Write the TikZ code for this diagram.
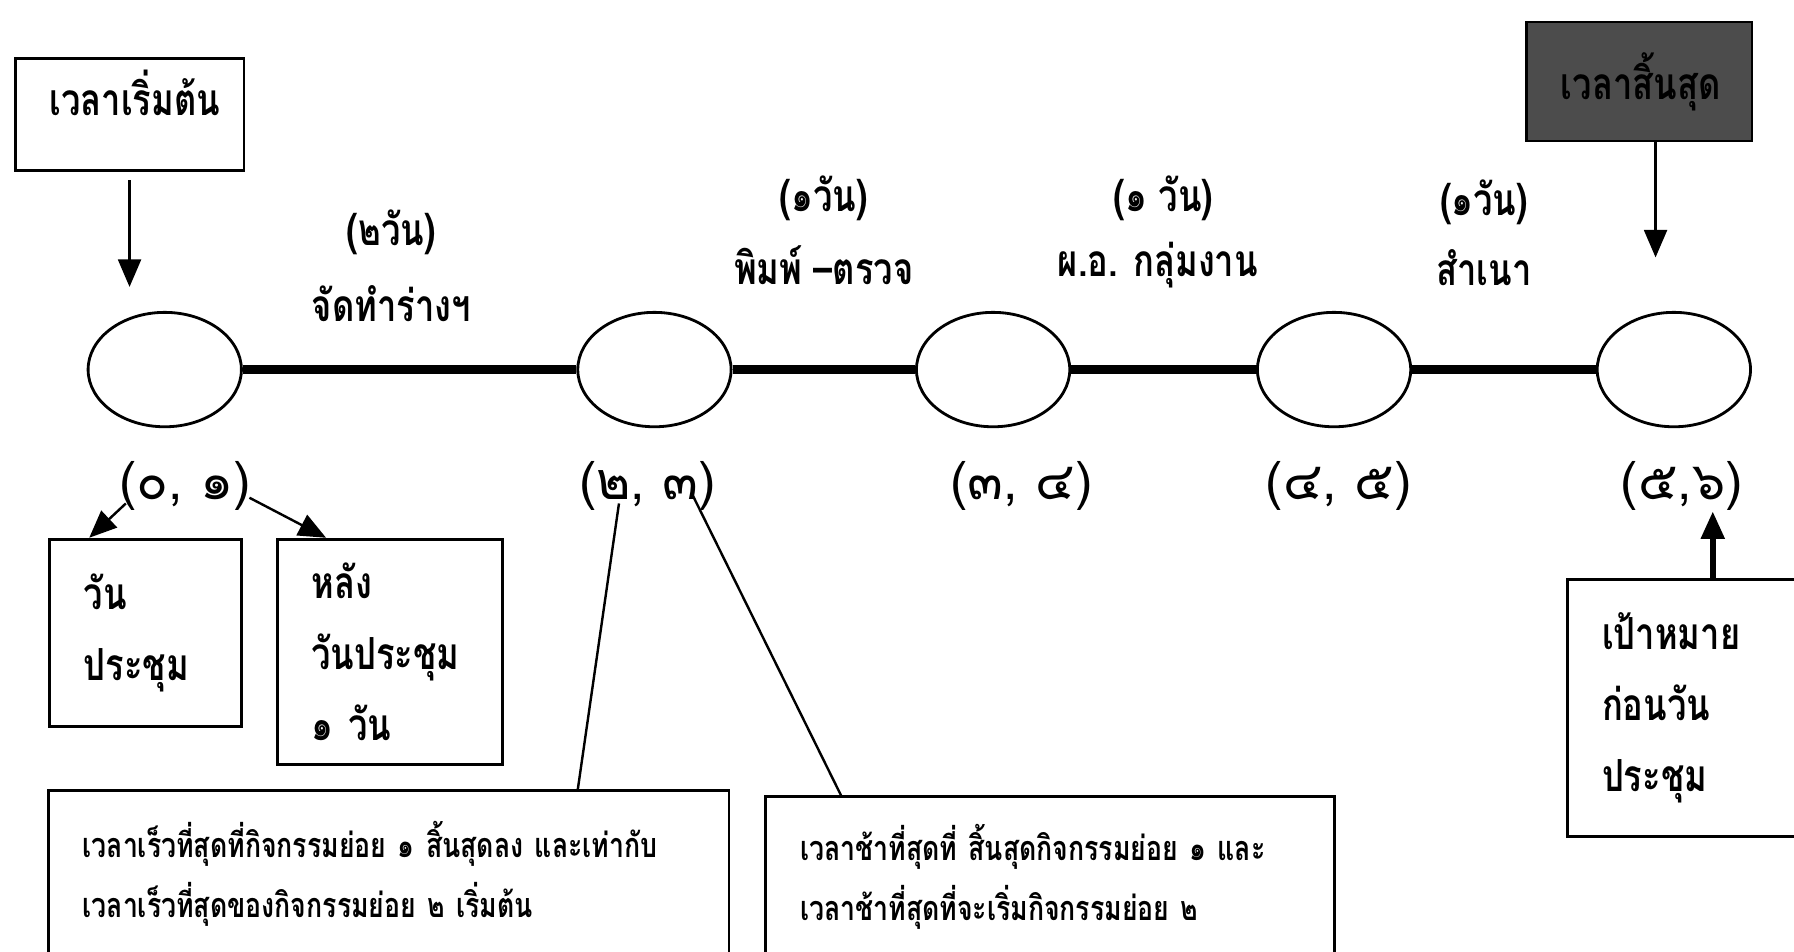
\documentclass[tikz,border=0pt]{standalone}
\usepackage{fontspec}
\newfontfamily\thai[Script=Thai,FakeStretch=0.78]{Loma}
\newfontfamily\thainum[Script=Thai]{Loma}
\usetikzlibrary{shapes.geometric,arrows.meta}
\begin{document}
\begin{tikzpicture}[x=0.1mm,y=-0.1mm,
    ev/.style={draw,ellipse,line width=0.7pt,minimum width=13.4mm,minimum height=10mm},
    box/.style={draw,line width=0.7pt,anchor=north west,align=left,inner xsep=3mm,inner ysep=0pt,
        font=\thai\bfseries\fontsize{11}{17.6}\selectfont},
    note/.style={box,font=\thai\bfseries\fontsize{8.5}{15}\selectfont},
    lbl/.style={font=\thai\bfseries\fontsize{11}{13}\selectfont},
    num/.style={font=\thainum\fontsize{13}{15}\selectfont},
    >={Triangle[width=2mm,length=2.4mm]}]
    \useasboundingbox (0,0) rectangle (1568,832);
    % events on the time line
    \foreach \x [count=\i from 0] in {144,572,868,1166,1463}
        \node[ev] (e\i) at (\x,323) {};
    \foreach \a/\b in {0/1,1/2,2/3,3/4} \draw[line width=2.3pt] (e\a)--(e\b);
    \path
    foreach \x/\t [count=\i from 0] in {162/{(๐, ๑)},566/{(๒, ๓)},893/{(๓, ๔)},1170/{(๔, ๕)},1470/{(๕,๖)}} {(\x,425) node[num] (t\i) {\t}}
    foreach \x/\y/\t [count=\i] in {342/203/{(๒วัน)},342/265/{จัดทำร่างฯ},720/173/{(๑วัน)},720/232/{พิมพ์ –ตรวจ},
        1017/173/{(๑ วัน)},1012/232/{ผ.อ. กลุ่มงาน},1297/177/{(๑วัน)},1297/234/{สำเนา}} {(\x,\y) node[lbl] (a\i) {\t}}
    ;
    % boxes
    \node[box,text width=14mm,minimum height=9.8mm,text depth=3.8mm,align=center] (start) at (12,50) {เวลาเริ่มต้น};
    \node[box,text width=13.7mm,minimum height=10.4mm,align=center,fill=black!70] (finish) at (1333,18) {เวลาสิ้นสุด};
    \node[box,text width=10.8mm,minimum height=16.4mm] (day) at (42,470) {วัน\\ประชุม};
    \node[box,text width=13.7mm,minimum height=19.7mm] (after) at (241,470) {หลัง\\วันประชุม\\๑~วัน};
    \node[box,text width=13.9mm,minimum height=22.5mm] (goal) at (1369,505) {เป้าหมาย\\ก่อนวัน\\ประชุม};
    \node[note,text width=53.5mm,minimum height=14.5mm] (early) at (41,690)
        {เวลาเร็วที่สุดที่กิจกรรมย่อย~๑~สิ้นสุดลง~และเท่ากับ\\เวลาเร็วที่สุดของกิจกรรมย่อย~๒~เริ่มต้น};
    \node[note,text width=43.7mm,minimum height=14mm] (late) at (668,695)
        {เวลาช้าที่สุดที่~สิ้นสุดกิจกรรมย่อย~๑~และ\\เวลาช้าที่สุดที่จะเริ่มกิจกรรมย่อย~๒};
    % arrows and leaders
    \coordinate (endtip) at (1447,225);
    \coordinate (goaltip) at (1497,447);
    \draw[->,line width=0.6pt] ([yshift=-0.7mm]start.south) -- ([yshift=2.1mm]start.south |- e0.north);
    \draw[->,line width=0.6pt] (finish.south -| endtip) -- (endtip);
    \draw[->,line width=0.6pt] ([xshift=-5.2mm,yshift=-1.5mm]t0.center) -- ([xshift=3.6mm]day.north west);
    \draw[->,line width=0.6pt] ([xshift=5.6mm,yshift=-1mm]t0.center) -- ([xshift=4.4mm]after.north west);
    \draw[line width=0.6pt] ([xshift=-2.5mm,yshift=-1.5mm]t1.center) -- ([xshift=46.4mm]early.north west);
    \draw[line width=0.6pt] ([xshift=3.9mm,yshift=-0.7mm]t1.center) -- ([xshift=6.7mm]late.north west);
    \draw[->,line width=1.4pt] (goal.north -| goaltip) -- (goaltip);
\end{tikzpicture}
\end{document}
